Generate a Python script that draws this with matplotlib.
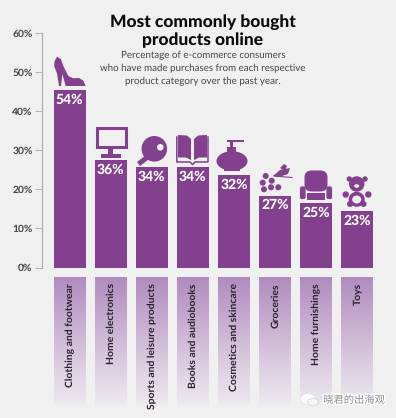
import numpy as np
import matplotlib
matplotlib.use("Agg")
import matplotlib.pyplot as plt
from matplotlib.colors import LinearSegmentedColormap
from matplotlib.patches import Circle, Ellipse, Polygon, Rectangle, FancyBboxPatch
import matplotlib.patheffects as pe

plt.rcParams["text.hinting"] = "no_hinting"
plt.rcParams["text.hinting_factor"] = 8

categories = ["Clothing and footwear", "Home electronics", "Sports and leisure products",
              "Books and audiobooks", "Cosmetics and skincare", "Groceries",
              "Home furnishings", "Toys"]
bar_heights = [45.5, 27.5, 25.6, 25.6, 23.7, 18.4, 16.4, 14.5]
value_labels = ["54%", "36%", "34%", "34%", "32%", "27%", "25%", "23%"]
y_ticks = [0, 10, 20, 30, 40, 50, 60]
title_lines = ["Most commonly bought", "products online"]
subtitle_lines = ["Percentage of e-commerce consumers",
                  "who have made purchases from each respective",
                  "product category over the past year."]

W, H = 396, 418
BG = "#F0F0F0"
PURPLE = "#82408F"
FONT = "Lato"

fig = plt.figure(figsize=(W / 100, H / 100), dpi=100, facecolor=BG)


def axes_px(x0, y0, x1, y1, **kw):
    return fig.add_axes([x0 / W, 1 - y1 / H, (x1 - x0) / W, (y1 - y0) / H], **kw)


# Main chart
ax = axes_px(41.5, 33, 380, 267.5, facecolor="none")
ax.set_xlim(-0.687, 7.56)
ax.set_ylim(0, 60)
xs = np.arange(len(categories))
ax.bar(xs, bar_heights, width=0.77, color=PURPLE)
for sp in ("top", "right", "bottom"):
    ax.spines[sp].set_visible(False)
ax.spines["left"].set_color("#A8A8A8")
ax.spines["left"].set_linewidth(0.8)
ax.set_xticks([])
ax.set_yticks(y_ticks)
ax.set_yticklabels([f"{t}%" for t in y_ticks], fontsize=7.4, family=FONT,
                   fontweight="bold", color="#444444")
ax.tick_params(axis="y", length=5, width=0.6, color="#A8A8A8", pad=1.5)
for x, h, lab in zip(xs, bar_heights, value_labels):
    ax.annotate(lab, (x, h), xytext=(0, -7), textcoords="offset points", ha="center",
                va="center", color="white", fontsize=10, family=FONT, fontweight="black")

# Category label panels
cmap = LinearSegmentedColormap.from_list("panel", ["#AF8BBE", "#C6ABCF", "#DACBDF", "#ECE9EF"])
grad = np.linspace(0, 1, 128)[:, None]
lax = axes_px(41.5, 276.7, 380, 405, facecolor="none")
lax.set_xlim(-0.687, 7.56)
lax.set_ylim(1, 0)
lax.axis("off")
for x, cat in zip(xs, categories):
    lax.imshow(grad, extent=(x - 0.385, x + 0.385, 1, 0), cmap=cmap, aspect="auto", zorder=1)
    lax.text(x + 0.015, 0.05, cat, rotation=90, ha="center", va="top", fontsize=7.5,
             family=FONT, fontweight="bold", color="#2B2230", zorder=2)
lax.set_xlim(-0.687, 7.56)
lax.set_ylim(1, 0)

# Overlay in pixel space: titles, pictograms, watermark
ov = axes_px(0, 0, W, H, facecolor="none")
ov.set_xlim(0, W)
ov.set_ylim(H, 0)
ov.axis("off")

for y, line in zip((22, 40), title_lines):
    ov.text(203, y, line, ha="center", va="center", fontsize=12.5, family=FONT,
            fontweight="black", color="#0A0A0A")
for y, line in zip((55.5, 68, 81), subtitle_lines):
    ov.text(203, y, line, ha="center", va="center", fontsize=7.0, family=FONT,
            color="#444444")


def add(p):
    ov.add_patch(p)


def poly(pts, color=PURPLE):
    add(Polygon(pts, closed=True, fc=color, ec="none"))


def circ(x, y, r, color=PURPLE):
    add(Circle((x, y), r, fc=color, ec="none"))


def rect(x0, y0, x1, y1, color=PURPLE):
    add(Rectangle((x0, y0), x1 - x0, y1 - y0, fc=color, ec="none"))


# Shoe
shoe = [(36, 20), (48, 28), (56, 50), (70, 78), (85, 85), (102, 84), (115, 92), (122, 108),
        (62, 108), (60, 100), (52, 72), (48, 108), (42, 108), (36, 70), (28, 50), (28, 35)]
poly([(45 + a / 3, 50 + b / 3) for a, b in shoe])

# Monitor
add(Rectangle((97, 127.5), 28.5, 19.5, fc="none", ec=PURPLE, lw=2.2))
rect(108.3, 148, 113.3, 153.5)
rect(101, 153.5, 120.7, 158)

# Paddle
ov.plot([149, 138.5], [156, 164], color=PURPLE, lw=3.6, solid_capstyle="butt")
circ(154.3, 148.8, 12.8)
circ(160.3, 147.3, 3.3, BG)

# Book
poly([(178, 135), (187, 135.5), (191, 139), (191, 160), (186, 157.5), (178, 157.5)])
poly([(207, 135), (198, 135.5), (194, 139), (194, 160), (199, 157.5), (207, 157.5)])
ov.plot([176.8, 176.8, 190, 192.5, 195, 208, 208], [137, 162, 162, 164.5, 162, 162, 137],
        color=PURPLE, lw=1.1)

# Bottle
add(Ellipse((232, 161), 31, 19.5, fc=PURPLE, ec="none"))
rect(224, 167, 240, 170.7)
rect(227, 147, 236, 153)
rect(230, 141, 233, 147)
rect(226.7, 139.5, 244, 142)

# Grapes
for gx, gy in [(265.7, 176), (262.7, 182.7), (271.7, 180.7), (264, 189.3), (271, 187.3), (278.3, 187.3)]:
    circ(gx, gy, 3)
poly([(273, 176), (280, 170), (290, 168), (288, 174), (279, 177)])
poly([(280, 168), (284, 164), (287, 166), (285, 171)])
ov.plot([274, 292], [176, 177.5], color=PURPLE, lw=0.8)

# Armchair
add(FancyBboxPatch((307, 173), 18, 16, boxstyle="round,pad=2.5,rounding_size=7", fc=PURPLE, ec="none"))
add(FancyBboxPatch((300.5, 187), 4.5, 11.5, boxstyle="round,pad=0.6,rounding_size=2", fc=PURPLE, ec="none"))
add(FancyBboxPatch((327, 187), 4.5, 11.5, boxstyle="round,pad=0.6,rounding_size=2", fc=PURPLE, ec="none"))
rect(307, 192.5, 325, 200)

# Teddy
add(Ellipse((356.7, 199.3), 16, 15, fc=PURPLE, ec="none"))
circ(349.3, 179, 2.7)
circ(365, 179, 2.7)
circ(356.7, 184, 7.7)
circ(345.7, 194.5, 3.2)
circ(368.3, 194.5, 3.2)
circ(350, 204, 3)
circ(363.5, 204, 3)
add(Ellipse((356.7, 186), 5, 3.5, fc=BG, ec="none"))
add(Ellipse((356.7, 199.5), 9, 8, fc=BG, ec="none"))

# Watermark
add(Ellipse((308, 399), 14, 10, fc="white", ec="none", alpha=0.95))
add(Ellipse((313, 402), 11, 7, fc="#F7F7F7", ec="#C8C8C8", lw=0.4))
ov.text(354, 400, "晓君的出海观", ha="center", va="center", fontsize=7.4,
        family=["Noto Sans CJK SC", "DejaVu Sans"], color="#8E8E8E",
        path_effects=[pe.withStroke(linewidth=2, foreground="white")])

fig.savefig("out.png", dpi=100, facecolor=BG)
